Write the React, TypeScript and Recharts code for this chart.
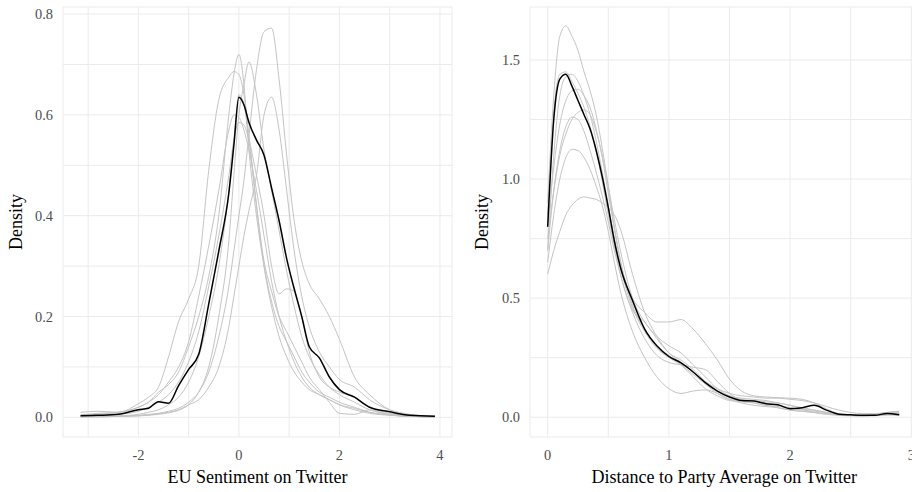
import { LineChart, Line, XAxis, YAxis, CartesianGrid, Label } from 'recharts'

const FONT = '"Liberation Serif", "Times New Roman", serif'
const GRID = '#ebebeb'
const GREY = '#c4c4c4'
const TICK = '#4d4d4d'

// ---- left panel: EU sentiment on Twitter (density by group, black = all) ----
const sentX = [-3.15, -2.8, -2.4, -2.0, -1.8, -1.6, -1.4, -1.2, -1.0, -0.8, -0.6, -0.4, -0.2, -0.1, 0, 0.1, 0.2, 0.35, 0.5, 0.65, 0.8, 0.95, 1.1, 1.25, 1.4, 1.6, 1.8, 2.0, 2.3, 2.6, 3.0, 3.4, 3.9]
const sentAll = [0.003, 0.004, 0.006, 0.015, 0.018, 0.031, 0.028, 0.063, 0.095, 0.125, 0.225, 0.33, 0.445, 0.54, 0.635, 0.62, 0.585, 0.55, 0.52, 0.455, 0.39, 0.315, 0.255, 0.2, 0.14, 0.118, 0.08, 0.055, 0.04, 0.02, 0.011, 0.004, 0.002]
const sentA = [0.003, 0.002, 0.002, 0.004, 0.006, 0.008, 0.012, 0.018, 0.03, 0.05, 0.09, 0.16, 0.26, 0.33, 0.4, 0.47, 0.56, 0.69, 0.765, 0.772, 0.67, 0.52, 0.39, 0.31, 0.265, 0.235, 0.2, 0.155, 0.08, 0.045, 0.015, 0.005, 0.002]
const sentB = [0.001, 0.001, 0.002, 0.003, 0.005, 0.007, 0.01, 0.015, 0.025, 0.035, 0.06, 0.1, 0.18, 0.24, 0.3, 0.36, 0.41, 0.48, 0.6, 0.635, 0.57, 0.45, 0.33, 0.24, 0.18, 0.13, 0.1, 0.075, 0.06, 0.035, 0.015, 0.006, 0.002]
const sentC = [0.005, 0.008, 0.01, 0.02, 0.03, 0.05, 0.065, 0.09, 0.14, 0.2, 0.28, 0.4, 0.6, 0.68, 0.72, 0.66, 0.53, 0.4, 0.3, 0.23, 0.18, 0.15, 0.12, 0.09, 0.07, 0.05, 0.04, 0.03, 0.02, 0.01, 0.005, 0.002, 0.001]
const sentD = [0.01, 0.012, 0.01, 0.027, 0.04, 0.06, 0.12, 0.19, 0.235, 0.3, 0.49, 0.63, 0.675, 0.686, 0.68, 0.64, 0.56, 0.42, 0.3, 0.22, 0.16, 0.12, 0.09, 0.07, 0.055, 0.045, 0.035, 0.025, 0.015, 0.008, 0.004, 0.002, 0.001]
const sentE = [0.001, 0.001, 0.002, 0.003, 0.004, 0.006, 0.009, 0.014, 0.025, 0.05, 0.1, 0.2, 0.35, 0.48, 0.6, 0.66, 0.705, 0.64, 0.53, 0.45, 0.37, 0.29, 0.22, 0.16, 0.12, 0.085, 0.06, 0.045, 0.03, 0.015, 0.006, 0.002, 0.001]
const sentF = [0.004, 0.006, 0.01, 0.02, 0.03, 0.045, 0.07, 0.1, 0.15, 0.24, 0.34, 0.45, 0.57, 0.6, 0.595, 0.57, 0.53, 0.45, 0.36, 0.27, 0.2, 0.15, 0.11, 0.08, 0.06, 0.045, 0.035, 0.025, 0.018, 0.01, 0.005, 0.002, 0.001]
const sentG = [0.002, 0.004, 0.006, 0.012, 0.02, 0.03, 0.045, 0.07, 0.11, 0.17, 0.26, 0.36, 0.48, 0.55, 0.585, 0.58, 0.55, 0.48, 0.4, 0.3, 0.245, 0.255, 0.25, 0.2, 0.13, 0.08, 0.06, 0.05, 0.04, 0.02, 0.008, 0.003, 0.001]
const sentH = [0.001, 0.002, 0.003, 0.006, 0.01, 0.015, 0.025, 0.04, 0.07, 0.12, 0.2, 0.3, 0.45, 0.55, 0.64, 0.62, 0.55, 0.42, 0.31, 0.25, 0.2, 0.17, 0.14, 0.11, 0.08, 0.055, 0.03, 0.008, 0.006, 0.015, 0.005, 0.002, 0.001]
const sentGroups = [sentA, sentB, sentC, sentD, sentE, sentF, sentG, sentH]

const sentXTicks = [-3, -2, -1, 0, 1, 2, 3, 4]
const sentYTicks = [0, 0.1, 0.2, 0.3, 0.4, 0.5, 0.6, 0.7, 0.8]

// ---- right panel: distance to party average on Twitter ----
const distX = [0, 0.05, 0.1, 0.15, 0.2, 0.25, 0.3, 0.35, 0.4, 0.45, 0.5, 0.55, 0.6, 0.7, 0.8, 0.9, 1.0, 1.1, 1.2, 1.3, 1.4, 1.5, 1.6, 1.7, 1.8, 1.9, 2.0, 2.1, 2.2, 2.3, 2.4, 2.5, 2.6, 2.7, 2.8, 2.9]
const distAll = [0.8, 1.25, 1.42, 1.44, 1.39, 1.33, 1.27, 1.21, 1.12, 1.01, 0.88, 0.74, 0.63, 0.49, 0.37, 0.3, 0.255, 0.228, 0.19, 0.145, 0.11, 0.085, 0.07, 0.068, 0.057, 0.052, 0.036, 0.04, 0.05, 0.03, 0.013, 0.01, 0.008, 0.008, 0.016, 0.01]
const distA = [0.9, 1.35, 1.6, 1.643, 1.6, 1.54, 1.45, 1.37, 1.27, 1.13, 0.97, 0.8, 0.66, 0.47, 0.37, 0.3, 0.26, 0.22, 0.17, 0.12, 0.09, 0.07, 0.065, 0.06, 0.05, 0.04, 0.03, 0.025, 0.02, 0.015, 0.01, 0.008, 0.008, 0.012, 0.02, 0.015]
const distB = [0.85, 1.28, 1.44, 1.45, 1.41, 1.36, 1.3, 1.22, 1.12, 0.99, 0.85, 0.72, 0.6, 0.45, 0.4, 0.33, 0.27, 0.24, 0.2, 0.15, 0.11, 0.09, 0.08, 0.075, 0.07, 0.06, 0.05, 0.04, 0.03, 0.02, 0.012, 0.008, 0.006, 0.008, 0.012, 0.01]
const distC = [0.7, 1.1, 1.35, 1.43, 1.44, 1.41, 1.35, 1.27, 1.16, 1.03, 0.89, 0.75, 0.63, 0.46, 0.36, 0.29, 0.25, 0.22, 0.18, 0.14, 0.1, 0.075, 0.07, 0.07, 0.065, 0.06, 0.05, 0.035, 0.02, 0.012, 0.008, 0.006, 0.006, 0.01, 0.02, 0.025]
const distD = [0.8, 1.05, 1.23, 1.33, 1.37, 1.377, 1.35, 1.3, 1.21, 1.09, 0.94, 0.79, 0.65, 0.5, 0.44, 0.4, 0.4, 0.41, 0.37, 0.31, 0.24, 0.16, 0.11, 0.09, 0.085, 0.082, 0.08, 0.075, 0.06, 0.035, 0.015, 0.008, 0.006, 0.008, 0.015, 0.02]
const distE = [0.75, 0.95, 1.1, 1.19, 1.25, 1.28, 1.29, 1.27, 1.2, 1.1, 0.97, 0.83, 0.7, 0.5, 0.4, 0.34, 0.3, 0.27, 0.22, 0.17, 0.12, 0.09, 0.075, 0.07, 0.06, 0.05, 0.04, 0.03, 0.025, 0.02, 0.015, 0.01, 0.008, 0.01, 0.015, 0.015]
const distF = [0.7, 0.95, 1.12, 1.22, 1.26, 1.25, 1.2, 1.12, 1.03, 0.93, 0.82, 0.7, 0.6, 0.44, 0.33, 0.26, 0.23, 0.22, 0.21, 0.2, 0.15, 0.1, 0.07, 0.06, 0.05, 0.045, 0.04, 0.035, 0.03, 0.02, 0.012, 0.008, 0.006, 0.006, 0.01, 0.01]
const distG = [0.65, 0.85, 1.0, 1.09, 1.125, 1.12, 1.09, 1.04, 0.97, 0.89, 0.78, 0.65, 0.53, 0.36, 0.25, 0.17, 0.12, 0.1, 0.11, 0.115, 0.1, 0.075, 0.06, 0.05, 0.045, 0.04, 0.03, 0.025, 0.02, 0.015, 0.01, 0.007, 0.006, 0.008, 0.01, 0.008]
const distH = [0.6, 0.7, 0.78, 0.85, 0.89, 0.915, 0.925, 0.92, 0.915, 0.9, 0.88, 0.85, 0.79, 0.6, 0.44, 0.34, 0.27, 0.23, 0.19, 0.15, 0.12, 0.1, 0.09, 0.085, 0.08, 0.08, 0.075, 0.07, 0.06, 0.045, 0.03, 0.02, 0.015, 0.015, 0.02, 0.025]
const distGroups = [distA, distB, distC, distD, distE, distF, distG, distH]

const distXTicks = [0, 0.5, 1, 1.5, 2, 2.5, 3]
const distYTicks = [0, 0.25, 0.5, 0.75, 1, 1.25, 1.5]

function buildRows(xs: number[], all: number[], groups: number[][]) {
  return xs.map((x, i) => {
    const row: Record<string, number> = { x, all: all[i] }
    groups.forEach((g, j) => { row[`g${j}`] = g[i] })
    return row
  })
}

const makeXTick = (show: (v: number) => boolean) => (props: any) => {
  const { x, y, payload } = props
  if (!show(payload.value)) return <g />
  return (
    <text x={x} y={y + 22.5} textAnchor="middle" fill={TICK} fontSize={14.4} fontFamily={FONT}>
      {String(payload.value)}
    </text>
  )
}

const makeYTick = (show: (v: number) => boolean) => (props: any) => {
  const { x, y, payload } = props
  if (!show(payload.value)) return <g />
  return (
    <text x={x - 10} y={y + 5} textAnchor="end" fill={TICK} fontSize={14.4} fontFamily={FONT}>
      {payload.value.toFixed(1)}
    </text>
  )
}

const yTitle = (cx: number) => () => (
  <text x={cx} y={222} transform={`rotate(-90 ${cx} 222)`} textAnchor="middle" fontSize={18} fontFamily={FONT} fill="#000">
    Density
  </text>
)

interface PanelProps {
  rows: Record<string, number>[]
  nGroups: number
  width: number
  yAxisWidth: number
  marginRight: number
  xDomain: [number, number]
  yDomain: [number, number]
  xTicks: number[]
  yTicks: number[]
  showX: (v: number) => boolean
  showY: (v: number) => boolean
  xTitle: string
  yTitleX: number
}

function Panel(p: PanelProps) {
  return (
    <LineChart width={p.width} height={492} data={p.rows} margin={{ top: 7, right: p.marginRight, bottom: 0, left: 0 }}>
      <CartesianGrid stroke={GRID} strokeWidth={1} />
      <XAxis
        dataKey="x" type="number" domain={p.xDomain} ticks={p.xTicks} allowDataOverflow
        axisLine={false} tickLine={false} tickSize={0} tickMargin={0} height={55}
        tick={makeXTick(p.showX)} interval={0}
      >
        <Label value={p.xTitle} position="insideBottom" offset={9} fontSize={18} fontFamily={FONT} fill="#000" />
      </XAxis>
      <YAxis
        type="number" domain={p.yDomain} ticks={p.yTicks} allowDataOverflow
        axisLine={false} tickLine={false} tickSize={0} tickMargin={0} width={p.yAxisWidth}
        tick={makeYTick(p.showY)} interval={0}
      >
        <Label content={yTitle(p.yTitleX)} />
      </YAxis>
      {Array.from({ length: p.nGroups }, (_, j) => (
        <Line key={j} type="monotone" dataKey={`g${j}`} stroke={GREY} strokeWidth={1} dot={false} activeDot={false} isAnimationActive={false} />
      ))}
      <Line type="monotone" dataKey="all" stroke="#000" strokeWidth={1.5} dot={false} activeDot={false} isAnimationActive={false} />
    </LineChart>
  )
}

export default function App() {
  const sentRows = buildRows(sentX, sentAll, sentGroups)
  const distRows = buildRows(distX, distAll, distGroups)
  return (
    <div style={{ position: 'absolute', left: 0, top: 0, width: 912, height: 492, overflow: 'hidden', background: '#fff' }}>
      <div style={{ position: 'absolute', left: 0, top: 0 }}>
        <Panel
          rows={sentRows} nGroups={sentGroups.length} width={460} yAxisWidth={63} marginRight={8}
          xDomain={[-3.5, 4.24]} yDomain={[-0.039, 0.814]}
          xTicks={sentXTicks} yTicks={sentYTicks}
          showX={(v) => Math.round(v) % 2 === 0}
          showY={(v) => Math.round(v * 10) % 2 === 0}
          xTitle="EU Sentiment on Twitter" yTitleX={22}
        />
      </div>
      <div style={{ position: 'absolute', left: 456, top: 0 }}>
        <Panel
          rows={distRows} nGroups={distGroups.length} width={470} yAxisWidth={74} marginRight={7.3}
          xDomain={[-0.146, 3.061]} yDomain={[-0.083, 1.7225]}
          xTicks={distXTicks} yTicks={distYTicks}
          showX={(v) => Number.isInteger(v)}
          showY={(v) => Number.isInteger(v * 2)}
          xTitle="Distance to Party Average on Twitter" yTitleX={32}
        />
      </div>
    </div>
  )
}
